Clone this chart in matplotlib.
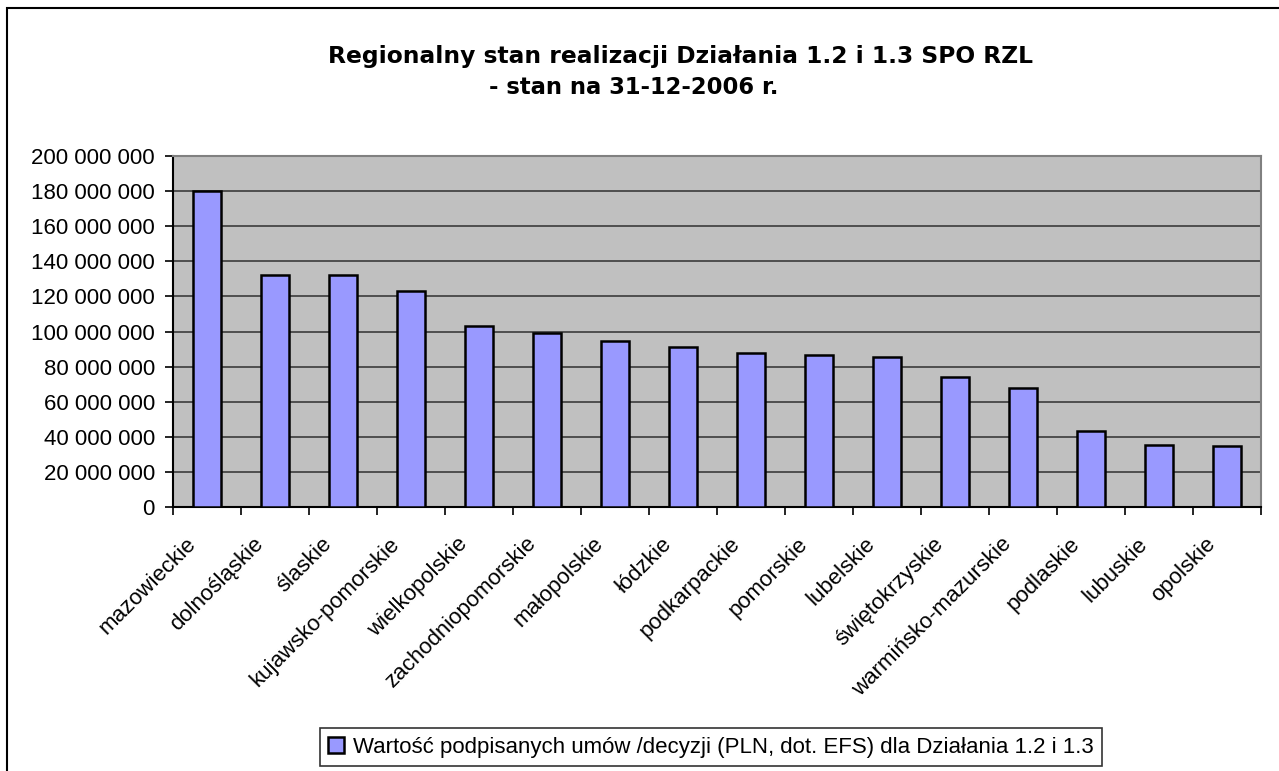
import matplotlib.pyplot as plt
import matplotlib.transforms as mtransforms
import numpy as np
from matplotlib.patches import Rectangle
from matplotlib.ticker import FuncFormatter, MultipleLocator, FixedLocator

plt.rcParams["font.family"] = ["Liberation Sans", "DejaVu Sans"]

regiony = [
    "mazowieckie", "dolnośląskie", "ślaskie", "kujawsko-pomorskie",
    "wielkopolskie", "zachodniopomorskie", "małopolskie", "łódzkie",
    "podkarpackie", "pomorskie", "lubelskie", "świętokrzyskie",
    "warmińsko-mazurskie", "podlaskie", "lubuskie", "opolskie",
]
wartosc = [
    179.8e6, 132.2e6, 132.2e6, 123.2e6,
    103.3e6, 98.9e6, 94.4e6, 90.9e6,
    87.7e6, 86.6e6, 85.5e6, 74.2e6,
    67.6e6, 43.3e6, 35.5e6, 34.5e6,
]
seria = "Wartość podpisanych umów /decyzji (PLN, dot. EFS) dla Działania 1.2 i 1.3"
tytul1 = "Regionalny stan realizacji Działania 1.2 i 1.3 SPO RZL"
tytul2 = "- stan na 31-12-2006 r."

W, H = 1279, 771
fig = plt.figure(figsize=(W / 100, H / 100), dpi=100)
ax = fig.add_axes([173 / W, 1 - 507 / H, (1261 - 173) / W, (507 - 156) / H])

# ramka wykresu (prawa i dolna krawędź poza obrazem)
fig.patches.append(Rectangle((7 / W, -0.2), 2, 1.2 - 8 / H, transform=fig.transFigure,
                             fill=False, edgecolor="black", lw=1.5, clip_on=False))

x = np.arange(len(regiony))
ax.bar(x, wartosc, width=0.41, color="#9999FF", edgecolor="black", lw=1.8,
       label=seria, zorder=3)

ax.set_facecolor("#C0C0C0")
ax.set_xlim(-0.5, len(regiony) - 0.5)
ax.set_ylim(0, 200e6)
ax.yaxis.set_major_locator(MultipleLocator(20e6))
ax.yaxis.set_major_formatter(FuncFormatter(lambda v, _: f"{int(v):,}".replace(",", " ")))
ax.grid(axis="y", color="#303030", lw=1.1, zorder=1)
for s in ax.spines.values():
    s.set_color("#808080")
    s.set_linewidth(1.5)
ax.spines["left"].set_color("black")
ax.spines["bottom"].set_color("black")

ax.set_xticks(x)
ax.set_xticklabels(regiony, rotation=45, ha="right", rotation_mode="anchor", fontsize=16)
ax.xaxis.set_minor_locator(FixedLocator(np.arange(-0.5, len(regiony), 1)))
ax.tick_params(axis="x", which="major", length=0, pad=19)
ax.tick_params(axis="x", which="minor", length=6, width=1.2)
ax.tick_params(axis="y", length=6, width=1.2, pad=7, labelsize=16)
shift = mtransforms.ScaledTranslation(-0.22, 0, fig.dpi_scale_trans)
for lab in ax.get_xticklabels():
    lab.set_transform(lab.get_transform() + shift)

fig.text(680 / W, 1 - 56 / H, tytul1, ha="center", va="center", fontsize=16.8,
         fontweight="bold", family="DejaVu Sans")
fig.text(634 / W, 1 - 88 / H, tytul2, ha="center", va="center", fontsize=16.3,
         fontweight="bold", family="DejaVu Sans")

leg = fig.legend(loc="center", bbox_to_anchor=(711 / W, 1 - 747 / H), fontsize=16,
                 frameon=True, fancybox=False, edgecolor="black", handlelength=0.7,
                 handleheight=0.7, handletextpad=0.4, borderpad=0.4)
leg.get_frame().set_linewidth(1.2)

fig.savefig("out.png", dpi=100)
